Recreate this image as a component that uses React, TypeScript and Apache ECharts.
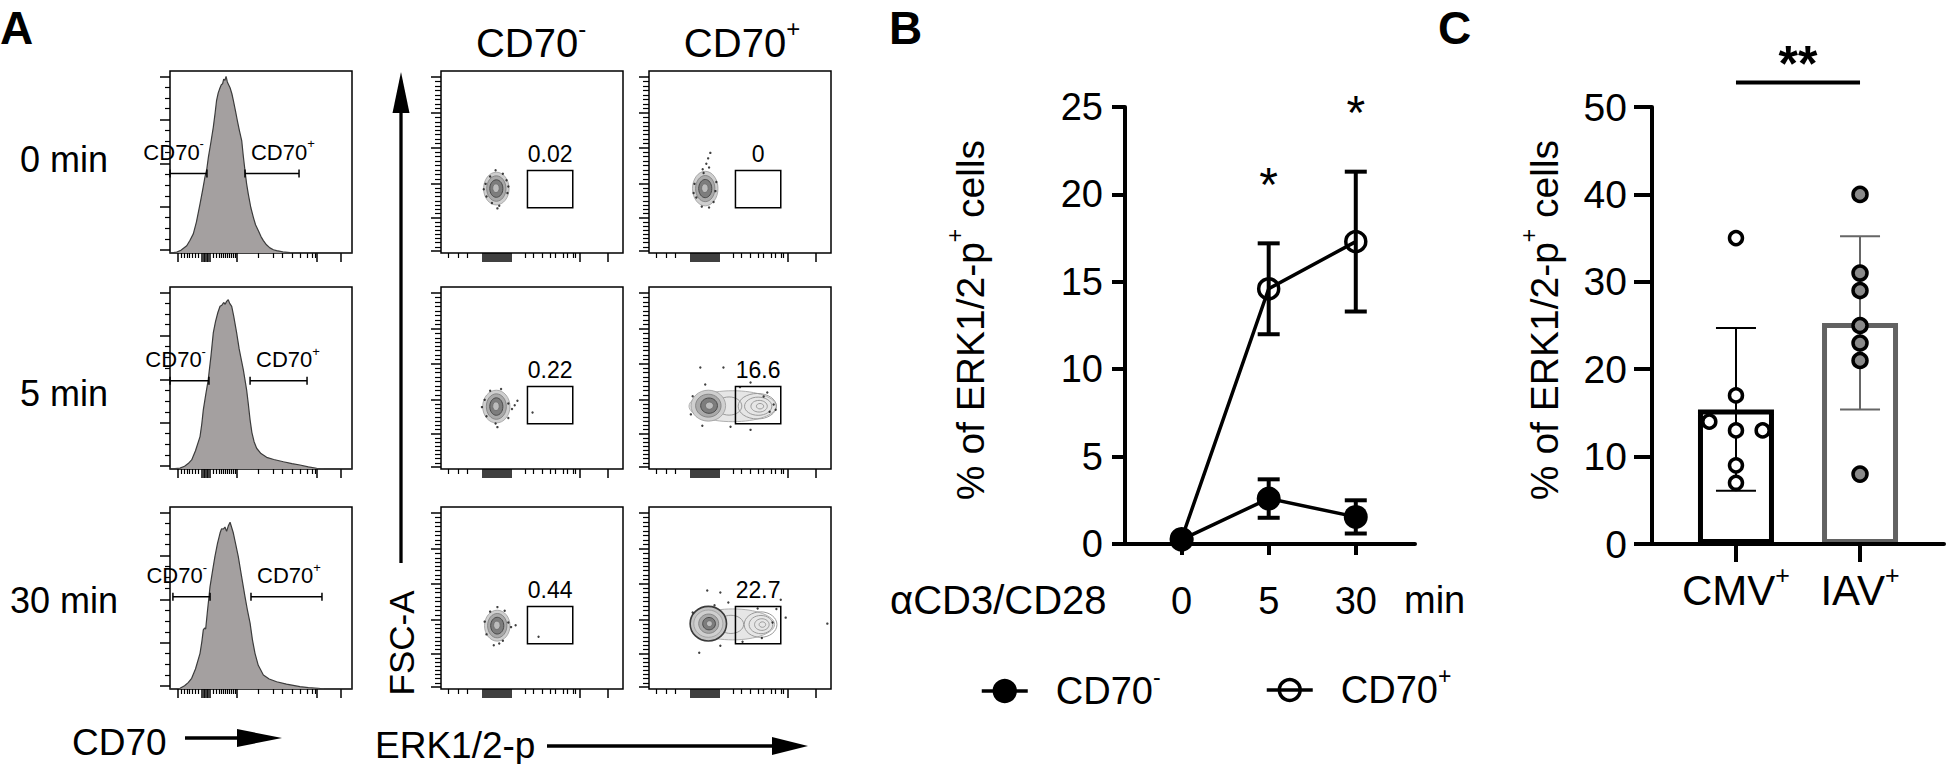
import React, { useEffect, useRef } from "react";
import * as echarts from "echarts";

const FONT = "'Liberation Sans', Arial, Helvetica, sans-serif";

// ---------------- Panel A : CD70 histograms ([x display units, % of max]) ----------------
const hist0min: number[][] = [[0,0],[3.7,0.5],[6,1.5],[9.2,4],[11,7],[12.8,10.5],[14.5,17],[16.5,27],[18,35],[19.2,41.7],[20.2,46],[21.1,52.7],[22.5,61],[23.8,69.2],[24.8,77],[25.6,83.9],[26.5,88],[27.5,90.8],[28.2,92.5],[28.9,93],[29.5,95.5],[30.2,94.9],[30.8,97],[31.5,94],[32.2,92.5],[33,90.8],[34,87.5],[34.8,83.9],[36,78],[37,72.8],[38.2,67],[39.4,61.8],[40.3,53],[41.2,45.3],[42.1,38],[43,32.5],[44.4,25],[45.8,19.6],[47,15.5],[48.5,12.3],[50,9],[51.3,6.8],[53,4.5],[54.9,2.8],[56.8,1.8],[58.6,1.3],[62,0.6],[66,0.2],[70,0],[100,0]];
const hist5min: number[][] = [[0,0],[5.5,0.5],[8,1.5],[10,3],[11.9,5],[14,10],[16.5,17.8],[17.5,25],[18.3,32.5],[19.5,40],[21,49],[22.5,62],[23.8,74.9],[25,81],[26.3,86],[27.5,89.4],[28.5,90],[29.5,91.5],[30.3,90.5],[31.1,92.1],[32,93],[32.8,91],[33.9,89.4],[35,84],[36.6,74.9],[38,66],[39.2,60],[40.3,54.5],[41.2,49],[42.1,43.5],[43,36],[44,27],[45,20],[46.2,15],[47.6,11.4],[50,8.5],[53.1,6.4],[57,5.2],[62.3,4],[67,3],[71.4,2.2],[76,1.2],[80.6,0.4],[85,0],[100,0]];
const hist30min: number[][] = [[0,0],[5.5,0.4],[8,1.8],[10,3.5],[11.9,5.9],[14,11],[16.5,19.6],[17.5,26],[18.3,32.5],[19,33.5],[19.6,33],[20.5,42],[22,56.3],[23.4,65],[24.7,72.9],[26.1,80],[27.5,85.7],[28.3,88],[29.3,87.9],[30.2,89],[31.1,86.6],[32,89.5],[33,91.6],[33.8,89],[34.8,85.7],[36.2,79],[37.5,72.9],[39.3,62],[41.2,50.8],[42.6,43],[44,36.2],[45.3,27],[46.7,19.6],[48.5,13],[51.3,7.7],[54.5,5.5],[58.6,4],[64,2.7],[71.4,1.3],[76,0.8],[81.5,0.4],[85,0],[100,0]];
const histograms = [hist0min, hist5min, hist30min];
const timePoints = ["0 min", "5 min", "30 min"];
// histogram gates [x1, x2, y]
const gateNegHist = [[0, 20.3, 43.7], [0, 21.4, 48.5], [1.6, 22, 50.7]];
const gatePosHist = [[41.2, 70.9, 43.7], [44, 75.3, 48.5], [44.5, 83.5, 50.7]];

// flow axis ticks (display units)
const histXMajor = [4.4, 17.6, 18.4, 19.2, 20.1, 20.9, 21.7, 36.8, 80.8, 94.0];
const histXMinor = [6.0, 7.7, 9.3, 10.4, 12.1, 13.7, 15.4, 23.6, 25.3, 26.9, 28.0, 29.1, 30.2, 31.3, 32.4, 33.5, 34.6, 35.7, 48.4, 56.6, 61.5, 67.0, 71.4, 75.3, 78.0, 79.7];
const histYMajor = [1.8, 25.5, 49.2, 73.4, 97.1];
const dotXMajor = [22.7, 23.8, 24.9, 26.0, 27.1, 28.2, 29.3, 30.4, 31.5, 32.6, 33.7, 34.8, 35.9, 37.0, 38.1, 76.2, 91.7];
const dotXMinor = [3.9, 9.4, 14.4, 46.4, 50.8, 55.8, 60.2, 63.0, 66.9, 69.6, 72.4, 74.0];
const dotYMajor = [1.1, 19.3, 38.1, 58.0, 76.8, 96.7];

// ---------------- Panel A : ERK1/2-p vs FSC-A contour plots ----------------
// contour levels [cx, cy, rx, ry, shade]
const contourNeg0 = [[30.4,35.4,7,9,0],[30.4,35.4,5.3,7,1],[30.4,35.4,3.6,4.8,2],[30.2,35.6,1.8,2.4,3]];
const contourPos0 = [[30.9,35.4,7,9.5,0],[30.9,35.4,5.3,7.2,1],[30.9,35.4,3.6,5,2],[30.7,35.6,1.8,2.4,3]];
const contourNeg5 = [[30.4,34.3,7.5,9,0],[30.4,34.3,5.5,7,1],[30.4,34.3,3.6,4.8,2],[30.2,34.5,1.8,2.4,3]];
const contourPos5 = [[46,34.5,24,8.5,6],[44,34.6,7,5,4],[59.5,34.5,10.5,7,4],[60,34.5,7.5,5,4],[60.5,34.5,4.5,3.2,4],[61,34.5,2,1.5,4],[32.6,34.8,9.5,8.5,0],[32.6,34.8,7,6.3,1],[33,34.8,4.6,4.2,2],[33.2,34.8,2.2,2,3]];
const contourNeg30 = [[30.9,34.8,7,8.5,0],[30.9,34.8,5.3,6.7,1],[30.9,34.8,3.6,4.6,2],[30.7,35,1.8,2.3,3]];
const contourPos30 = [[46,35.5,23,8.5,6],[45,35.5,7,5,4],[61.3,35.4,9,7,4],[61.5,35.4,6.5,5,4],[62,35.4,4,3.2,4],[62.3,35.4,1.8,1.5,4],[32.6,35.9,10,9.5,5],[32.6,35.9,8,7.5,0],[32.8,35.9,5.5,5.3,1],[33,35.9,3.5,3.4,2],[33.2,35.9,1.6,1.6,3]];
// outlying events
const dotsNeg0 = [[24.5,38],[25,31],[36.5,33],[36,40],[30,45.5],[32,26],[28,27.5],[34,43.5],[23.5,35],[37,36.5],[31,24.5],[27,42]];
const dotsPos0 = [[33.7,55],[32.5,52],[31.5,49],[33,47],[29.5,46],[25,38],[26,30.5],[36.5,34],[37,39],[29,25.5],[33,25],[30,44],[24.5,33],[35.5,28]];
const dotsNeg5 = [[24,38],[22.5,34],[37,36],[39,33],[40.5,35],[42,37.5],[50.3,31],[37,28],[30,25],[33,44],[27,43],[31,23],[25,29]];
const dotsPos5 = [[30.9,46.4],[55.8,47.5],[63,39.8],[68.5,35.4],[69.6,32.6],[66.3,31.5],[55.8,21.5],[29.3,23.8],[44.8,23.2],[28.2,55.8],[40.9,55.8],[23,30],[24,40],[65,42],[50,45]];
const dotsNeg30 = [[31,45],[24,37],[25,30],[37,36.5],[38.5,34],[32,25],[29,24],[34,26.5],[41,35],[53.6,28.7],[27,42.5],[35,43]];
const dotsPos30 = [[32,54.1],[39.2,53],[43.6,47.5],[59.7,44.2],[72.4,49],[75.1,39.2],[67.9,36.5],[39.2,23.8],[27.6,19.9],[51.4,26],[98,35.9],[24,42],[36,46],[62,28],[70,44]];
// ERK1/2-p+ gate [x1, y1, x2, y2] and its frequencies
const erkGate = [47.5, 24.9, 72.4, 45.3];
const erkPctNeg = ["0.02", "0.22", "0.44"];
const erkPctPos = ["0", "16.6", "22.7"];

// ---------------- Panel B ----------------
const timeCats = ["0", "5", "30"];
const negMean = [0.25, 2.6, 1.55];
const negSem = [0, 1.1, 0.95];
const posMean = [0.3, 14.6, 17.3];
const posSem = [0, 2.6, 4.0];
const sigTimesB = [1, 2];

// ---------------- Panel C ----------------
const groups = ["CMV", "IAV"];
const cmvPoints = [35, 17, 14, 13, 13, 9, 7];
const iavPoints = [40, 31, 29, 25, 23, 21, 8];
const cmvJitter = [0, 0, -1, 0, 1, 0, 0];
const iavJitter = [0, 0, 0, 0, 0, 0, 0];
const groupMeans = [15.4, 25.3];
const groupSd = [9.3, 9.9];
const groupColors = ["#000000", "#626262"];
const sigC = [[0, 1, 52.8]];

// ---------------- layout ----------------
const HIST_LEFT = 170, PANEL_W = 182, PANEL_H = 182;
const ROW_TOPS = [71, 287, 507];
const ROW_LABEL_Y = [159, 393, 600];
const CNEG_LEFT = 441, CPOS_LEFT = 649;
const JIT = 0.215;

const SHADES = [
  { fill: "#cfcfcf", stroke: "#9a9a9a", lw: 0.8 },
  { fill: "#a9a9a9", stroke: "#7a7a7a", lw: 0.8 },
  { fill: "#7d7d7d", stroke: "#4a4a4a", lw: 1 },
  { fill: "#bcbcbc", stroke: "#6a6a6a", lw: 0.8 },
  { fill: "none", stroke: "#9a9a9a", lw: 1 },
  { fill: "#c4c4c4", stroke: "#3a3a3a", lw: 1.6 },
  { fill: "#e6e6e6", stroke: "#b0b0b0", lw: 1 },
];

function subdivide(majors: number[], n: number) {
  const out: number[] = [];
  for (let i = 0; i < majors.length - 1; i++) {
    const a = majors[i], b = majors[i + 1];
    for (let k = 1; k <= n; k++) out.push(a + ((b - a) * k) / (n + 1));
  }
  return out;
}

function zrRich(F: number) {
  const f = Math.round(F * 0.6);
  return { sup: { fontSize: f, lineHeight: f, verticalAlign: "top", fontFamily: FONT, fill: "#000" } };
}
function ecRich(F: number) {
  const f = Math.round(F * 0.6);
  return { sup: { fontSize: f, lineHeight: f, verticalAlign: "top", fontFamily: FONT, color: "#000" } };
}

function gtext(text: string, x: number, y: number, size: number, opts: any = {}) {
  const hasSup = text.indexOf("{sup|") >= 0;
  return {
    type: "text",
    x, y,
    rotation: opts.rotation || 0,
    z: 100,
    style: {
      text,
      fontSize: size,
      fontFamily: FONT,
      fontWeight: opts.bold ? "bold" : "normal",
      fill: "#000",
      align: opts.align || "left",
      verticalAlign: "middle",
      lineHeight: hasSup ? Math.round(size * 1.36) : size,
      rich: hasSup ? zrRich(size) : undefined,
    },
  };
}

function buildOption() {
  const grids: any[] = [], xAxes: any[] = [], yAxes: any[] = [], series: any[] = [];
  const addGrid = (rect: any, x: any, y: any) => {
    const i = grids.length;
    grids.push(rect);
    xAxes.push({ gridIndex: i, ...x });
    yAxes.push({ gridIndex: i, ...y });
    return i;
  };
  const tickAxis = (values: number[], len: number, w: number) => ({
    type: "value", min: 0, max: 100,
    axisLine: { show: false, onZero: false },
    axisLabel: { show: false },
    splitLine: { show: false },
    axisTick: { show: true, customValues: values, length: len, lineStyle: { color: "#000", width: w } },
  });
  const flowPanel = (left: number, top: number, xMaj: number[], xMin: number[], yMaj: number[], yMin: number[], yMinLen: number) => {
    const g = addGrid(
      { left, top, width: PANEL_W, height: PANEL_H, show: true, borderColor: "#000", borderWidth: 1.5, backgroundColor: "rgba(0,0,0,0)" },
      tickAxis(xMaj, 9, 1.5), tickAxis(yMaj, 10, 1.5));
    addGrid({ left, top, width: PANEL_W, height: PANEL_H }, tickAxis(xMin, 5, 1.2), tickAxis(yMin, yMinLen, 1.2));
    return g;
  };

  // histogram gate renderer
  const gateNames = ["CD70{sup|-}", "CD70{sup|+}"];
  const histGateItem = (params: any, api: any) => {
    const a = api.coord([api.value(0), api.value(2)]);
    const b = api.coord([api.value(1), api.value(2)]);
    const side = api.value(3);
    const st = { stroke: "#000", lineWidth: 1.5 };
    const label = {
      type: "text",
      x: side === 0 ? b[0] - 3 : a[0] + 6,
      y: a[1] - 21,
      style: { text: gateNames[side], fontSize: 22, fontFamily: FONT, fill: "#000", align: side === 0 ? "right" : "left", verticalAlign: "middle", lineHeight: 30, rich: zrRich(22) },
    };
    return {
      type: "group",
      children: [
        { type: "line", shape: { x1: a[0], y1: a[1], x2: b[0], y2: b[1] }, style: st },
        { type: "line", shape: { x1: a[0], y1: a[1] - 4, x2: a[0], y2: a[1] + 4 }, style: st },
        { type: "line", shape: { x1: b[0], y1: b[1] - 4, x2: b[0], y2: b[1] + 4 }, style: st },
        label,
      ],
    };
  };
  const ellipseItem = (params: any, api: any) => {
    const c = api.coord([api.value(0), api.value(1)]);
    const s = api.size([api.value(2), api.value(3)]);
    const sh = SHADES[api.value(4)];
    return { type: "ellipse", shape: { cx: c[0], cy: c[1], rx: s[0], ry: s[1] }, style: { fill: sh.fill, stroke: sh.stroke, lineWidth: sh.lw } };
  };
  const gateRectItem = (label: string) => (params: any, api: any) => {
    const p1 = api.coord([api.value(0), api.value(3)]);
    const p2 = api.coord([api.value(2), api.value(1)]);
    return {
      type: "group",
      children: [
        { type: "rect", shape: { x: p1[0], y: p1[1], width: p2[0] - p1[0], height: p2[1] - p1[1] }, style: { fill: "none", stroke: "#000", lineWidth: 1.5 } },
        { type: "text", x: (p1[0] + p2[0]) / 2, y: p1[1] - 17, style: { text: label, fontSize: 23, fontFamily: FONT, fill: "#000", align: "center", verticalAlign: "middle" } },
      ],
    };
  };

  const contourSets = [[contourNeg0, contourPos0], [contourNeg5, contourPos5], [contourNeg30, contourPos30]];
  const dotSets = [[dotsNeg0, dotsPos0], [dotsNeg5, dotsPos5], [dotsNeg30, dotsPos30]];
  const pctSets = [erkPctNeg, erkPctPos];

  for (let r = 0; r < 3; r++) {
    const g = flowPanel(HIST_LEFT, ROW_TOPS[r], histXMajor, histXMinor, histYMajor, subdivide(histYMajor, 3), 5);
    series.push({
      type: "line", xAxisIndex: g, yAxisIndex: g, data: histograms[r], symbol: "none", silent: true,
      lineStyle: { color: "#3c3c3c", width: 1.2 }, areaStyle: { color: "#a4a0a0", opacity: 1 }, z: 2,
    });
    series.push({
      type: "custom", xAxisIndex: g, yAxisIndex: g, clip: false, z: 3,
      data: [[...gateNegHist[r], 0], [...gatePosHist[r], 1]], renderItem: histGateItem,
    });
    [CNEG_LEFT, CPOS_LEFT].forEach((left, c) => {
      const gc = flowPanel(left, ROW_TOPS[r], dotXMajor, dotXMinor, dotYMajor, subdivide(dotYMajor, 7), 6);
      series.push({ type: "custom", xAxisIndex: gc, yAxisIndex: gc, data: contourSets[r][c], renderItem: ellipseItem, z: 2 });
      series.push({ type: "scatter", xAxisIndex: gc, yAxisIndex: gc, data: dotSets[r][c], symbolSize: 2.4, itemStyle: { color: "#111" }, z: 3 });
      series.push({ type: "custom", xAxisIndex: gc, yAxisIndex: gc, clip: false, data: [erkGate], renderItem: gateRectItem(pctSets[c][r]), z: 4 });
    });
  }

  // ---------- Panel B ----------
  const axisBlack = { color: "#000", width: 4 };
  const gB = addGrid(
    { left: 1125, top: 107, width: 290, height: 437 },
    {
      type: "value", min: -0.65, max: 2.68,
      axisLine: { show: true, onZero: false, lineStyle: axisBlack },
      axisTick: { show: true, customValues: [0, 1, 2], length: 11, lineStyle: axisBlack },
      axisLabel: { show: true, customValues: [0, 1, 2], formatter: (v: number) => timeCats[Math.round(v)], fontSize: 38, fontFamily: FONT, color: "#000", margin: 38, lineHeight: 38 },
      splitLine: { show: false },
    },
    {
      type: "value", min: 0, max: 25, interval: 5,
      axisLine: { show: true, onZero: false, lineStyle: axisBlack },
      axisTick: { show: true, length: 13, lineStyle: axisBlack },
      axisLabel: { fontSize: 38, fontFamily: FONT, color: "#000", margin: 22 },
      splitLine: { show: false },
    });
  const errItem = (cap: number, lw: number, colors: string[]) => (params: any, api: any) => {
    const x = api.value(0);
    const a = api.coord([x, api.value(1)]);
    const b = api.coord([x, api.value(2)]);
    const color = colors[Math.round(api.value(3))] || colors[0];
    const st = { stroke: color, lineWidth: lw };
    return {
      type: "group",
      children: [
        { type: "line", shape: { x1: a[0], y1: a[1], x2: b[0], y2: b[1] }, style: st },
        { type: "line", shape: { x1: a[0] - cap / 2, y1: a[1], x2: a[0] + cap / 2, y2: a[1] }, style: st },
        { type: "line", shape: { x1: b[0] - cap / 2, y1: b[1], x2: b[0] + cap / 2, y2: b[1] }, style: st },
      ],
    };
  };
  const errB: number[][] = [];
  negMean.forEach((m, i) => { if (negSem[i] > 0) errB.push([i, m - negSem[i], m + negSem[i], 0]); });
  posMean.forEach((m, i) => { if (posSem[i] > 0) errB.push([i, m - posSem[i], m + posSem[i], 0]); });
  series.push({ type: "custom", xAxisIndex: gB, yAxisIndex: gB, data: errB, renderItem: errItem(22, 4, ["#000"]), z: 2 });
  series.push({
    type: "line", name: "CD70+", xAxisIndex: gB, yAxisIndex: gB, data: posMean.map((m, i) => [i, m]),
    symbol: "circle", symbolSize: 20, itemStyle: { color: "rgba(0,0,0,0)", borderColor: "#000", borderWidth: 3.5 },
    lineStyle: { color: "#000", width: 3.5 }, z: 3,
  });
  series.push({
    type: "line", name: "CD70-", xAxisIndex: gB, yAxisIndex: gB, data: negMean.map((m, i) => [i, m]),
    symbol: "circle", symbolSize: 24, itemStyle: { color: "#000", borderColor: "#000", borderWidth: 0 },
    lineStyle: { color: "#000", width: 3.5 }, z: 4,
  });
  const STAR_GAP = 4;
  series.push({
    type: "custom", xAxisIndex: gB, yAxisIndex: gB, clip: false, z: 5,
    data: sigTimesB.map((i) => [i, posMean[i] + posSem[i] + STAR_GAP]),
    renderItem: (params: any, api: any) => {
      const p = api.coord([api.value(0), api.value(1)]);
      return { type: "text", x: p[0], y: p[1] + 11, style: { text: "*", fontSize: 48, fontFamily: FONT, fill: "#000", align: "center", verticalAlign: "middle" } };
    },
  });

  // ---------- Panel C ----------
  const gC = addGrid(
    { left: 1652, top: 107, width: 292, height: 437 },
    {
      type: "value", min: -0.677, max: 1.677, z: 5,
      axisLine: { show: true, onZero: false, lineStyle: axisBlack },
      axisTick: { show: true, customValues: [0, 1], length: 18, lineStyle: axisBlack },
      axisLabel: {
        show: true, customValues: [0, 1], formatter: (v: number) => groups[Math.round(v)] + "{sup|+}",
        fontSize: 42, fontFamily: FONT, color: "#000", margin: 18, lineHeight: 57, rich: ecRich(42),
      },
      splitLine: { show: false },
    },
    {
      type: "value", min: 0, max: 50, interval: 10, z: 5,
      axisLine: { show: true, onZero: false, lineStyle: axisBlack },
      axisTick: { show: true, length: 18, lineStyle: axisBlack },
      axisLabel: { fontSize: 39, fontFamily: FONT, color: "#000", margin: 25 },
      splitLine: { show: false },
    });
  series.push({
    type: "bar", xAxisIndex: gC, yAxisIndex: gC, barWidth: 76, z: 2,
    data: groupMeans.map((m, i) => ({ value: [i, m], itemStyle: { color: "#fff", borderColor: groupColors[i], borderWidth: 5 } })),
  });
  series.push({
    type: "custom", xAxisIndex: gC, yAxisIndex: gC, z: 3,
    data: groupMeans.map((m, i) => [i, m - groupSd[i], m + groupSd[i], i]),
    renderItem: errItem(40, 2, ["#000", "#666"]),
  });
  series.push({
    type: "scatter", xAxisIndex: gC, yAxisIndex: gC, z: 4, symbolSize: 13,
    data: cmvPoints.map((v, i) => [0 + cmvJitter[i] * JIT, v]),
    itemStyle: { color: "#fff", borderColor: "#000", borderWidth: 3.5, opacity: 1 },
  });
  series.push({
    type: "scatter", xAxisIndex: gC, yAxisIndex: gC, z: 4, symbolSize: 14,
    data: iavPoints.map((v, i) => [1 + iavJitter[i] * JIT, v]),
    itemStyle: { color: "#8a8a8a", borderColor: "#000", borderWidth: 3.5, opacity: 1 },
  });
  series.push({
    type: "custom", xAxisIndex: gC, yAxisIndex: gC, clip: false, z: 5, data: sigC,
    renderItem: (params: any, api: any) => {
      const a = api.coord([api.value(0), api.value(2)]);
      const b = api.coord([api.value(1), api.value(2)]);
      return {
        type: "group",
        children: [
          { type: "line", shape: { x1: a[0], y1: a[1], x2: b[0], y2: b[1] }, style: { stroke: "#000", lineWidth: 4 } },
          { type: "text", x: (a[0] + b[0]) / 2, y: a[1] - 19, style: { text: "**", fontSize: 50, fontWeight: "bold", fontFamily: FONT, fill: "#000", align: "center", verticalAlign: "middle" } },
        ],
      };
    },
  });

  const legendBase = {
    orient: "horizontal", padding: 0, itemWidth: 46, itemHeight: 26,
    itemStyle: { borderWidth: 3.5 }, lineStyle: { width: 3.5 },
    formatter: (name: string) => (name === "CD70-" ? "CD70{sup|-}" : "CD70{sup|+}"),
    textStyle: { fontSize: 38, fontFamily: FONT, color: "#000", lineHeight: 52, padding: [0, 0, 0, 23], rich: ecRich(38) },
  };

  const graphics: any[] = [
    gtext("A", 0, 28, 46, { bold: true }),
    gtext("B", 889, 28, 46, { bold: true }),
    gtext("C", 1438, 28, 46, { bold: true }),
    ...timePoints.map((t, r) => gtext(t, 64, ROW_LABEL_Y[r], 36, { align: "center" })),
    gtext("CD70{sup|-}", 531, 43, 40, { align: "center" }),
    gtext("CD70{sup|+}", 742, 43, 40, { align: "center" }),
    { type: "line", shape: { x1: 401, y1: 563, x2: 401, y2: 105 }, style: { stroke: "#000", lineWidth: 3.3 } },
    { type: "polygon", shape: { points: [[401, 72], [392.5, 113], [409.5, 113]] }, style: { fill: "#000" } },
    gtext("FSC-A", 401, 643, 35, { align: "center", rotation: Math.PI / 2 }),
    gtext("CD70", 72, 742, 37),
    { type: "line", shape: { x1: 185, y1: 738, x2: 240, y2: 738 }, style: { stroke: "#000", lineWidth: 3.3 } },
    { type: "polygon", shape: { points: [[237, 729], [282, 738], [237, 747]] }, style: { fill: "#000" } },
    gtext("ERK1/2-p", 375, 745, 37),
    { type: "line", shape: { x1: 547, y1: 746, x2: 775, y2: 746 }, style: { stroke: "#000", lineWidth: 3.3 } },
    { type: "polygon", shape: { points: [[772, 737], [808, 746], [772, 755]] }, style: { fill: "#000" } },
    gtext("αCD3/CD28", 890, 600, 40),
    gtext("min", 1404, 600, 38),
    gtext("% of ERK1/2-p{sup|+} cells", 970, 320, 39, { align: "center", rotation: Math.PI / 2 }),
    gtext("% of ERK1/2-p{sup|+} cells", 1544, 320, 39, { align: "center", rotation: Math.PI / 2 }),
  ];

  return {
    animation: false,
    backgroundColor: "#ffffff",
    textStyle: { fontFamily: FONT },
    grid: grids,
    xAxis: xAxes,
    yAxis: yAxes,
    series,
    legend: [
      { ...legendBase, data: ["CD70-"], left: 980, top: 665 },
      { ...legendBase, data: ["CD70+"], left: 1265, top: 664 },
    ],
    graphic: { elements: graphics },
  };
}

export default function App() {
  const ref = useRef<HTMLDivElement>(null);
  useEffect(() => {
    const chart = echarts.init(ref.current as HTMLDivElement, undefined, { renderer: "svg" });
    chart.setOption(buildOption() as any);
    return () => chart.dispose();
  }, []);
  return <div ref={ref} style={{ position: "absolute", left: 0, top: 0, width: 1946, height: 764 }} />;
}
